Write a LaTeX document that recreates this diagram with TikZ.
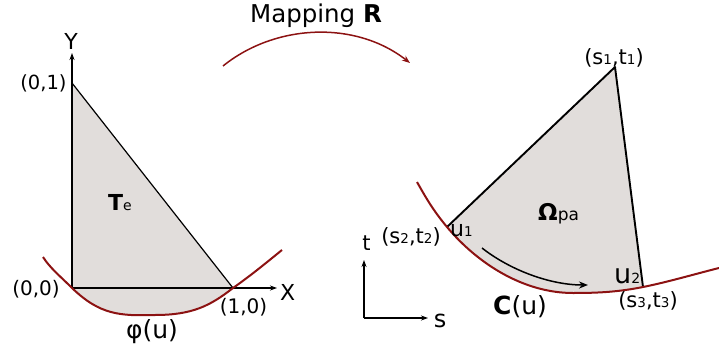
\documentclass[tikz,border=0pt]{standalone}
\usepackage{fontspec}
\setmainfont{DejaVu Sans}
\usetikzlibrary{arrows.meta}
\definecolor{curvered}{RGB}{140,18,18}
\definecolor{regiongray}{RGB}{225,221,219}
\newcommand{\fsz}[1]{\fontsize{#1}{#1}\selectfont}
\tikzset{
  redcurve/.style={draw=curvered, line width=2pt},
  edge/.style={draw=black, line width=1.9pt, line join=round},
  thinedge/.style={draw=black, line width=1.2pt},
  axis/.style={draw=black, line width=1.1pt, -{Stealth[length=7pt,width=5pt]}},
  lbl/.style={inner sep=0pt, anchor=base},
}
\begin{document}
\begin{tikzpicture}[x=1pt,y=-1pt]
\useasboundingbox (0,0) rectangle (719,350);
% ---------- left panel ----------
\coordinate (O) at (72,288);
\coordinate (A) at (72,83);
\coordinate (B) at (233,288);
\coordinate (M) at (155,315);
\coordinate (L0) at (43,257);
\coordinate (L1) at (282,250);
\fill[regiongray] (A) -- (O) .. controls (100,315) and (120,316) .. (M)
   .. controls (192,315) and (210,306) .. (B) -- cycle;
\draw[thinedge] (A) -- (B);
\coordinate (Ytip) at (72,53);
\coordinate (Xtip) at (277,288);
\draw[axis] (O) -- (Ytip);
\draw[axis] (O) -- (Xtip);
\draw[redcurve] (L0) .. controls (50,268) and (60,276) .. (O)
   .. controls (100,315) and (120,316) .. (M)
   .. controls (192,315) and (210,306) .. (B)
   .. controls (253,274) and (272,258) .. (L1);
\node[lbl] (ylab) at (71,50) {\fsz{22}Y};
\node[lbl, anchor=base west] (xlab) at (280,300) {\fsz{22}X};
\node[lbl] (l01) at (43.5,90) {\fsz{19.5}(0,1)};
\node[lbl] (l00) at (36,295) {\fsz{20}(0,0)};
\node[lbl] (l10) at (243.5,313) {\fsz{20}(1,0)};
\node[lbl] (phi) at (152,338) {\fsz{25}φ(u)};
\node[lbl, anchor=base west] (te) at (108,210) {\fsz{22}\textbf{T}\fsz{14}e};
% ---------- mapping arrow ----------
\coordinate (m0) at (223,66);
\coordinate (m1) at (410,63);
\draw[draw=curvered, line width=1.5pt, -{Stealth[length=8pt,width=6pt]}]
   (m0) .. controls (275,24) and (355,20) .. (m1);
\node[lbl] (map) at (316,23) {\fsz{24.5}Mapping \textbf{R}};
% ---------- right panel ----------
\coordinate (S1) at (615,67);
\coordinate (U1) at (447,227);
\coordinate (U3) at (643,287);
\coordinate (Q) at (573,293);
\coordinate (R0) at (417,182);
\coordinate (R1) at (719,268);
\fill[regiongray] (S1) -- (U1) .. controls (477,263) and (523,293) .. (Q)
   .. controls (598,293) and (618,292) .. (U3) -- cycle;
\draw[edge] (U1) -- (S1) -- (U3);
\draw[redcurve] (R0) .. controls (425,196) and (432,209) .. (U1)
   .. controls (477,263) and (523,293) .. (Q)
   .. controls (598,293) and (618,292) .. (U3)
   .. controls (668,282) and (695,274) .. (R1);
\coordinate (a0) at (482,248);
\coordinate (a1) at (588,285);
\draw[draw=black, line width=1.5pt, -{Stealth[length=9pt,width=7pt]}]
   (a0) .. controls (510,270) and (550,285) .. (a1);
\node[lbl] (s1t1) at (614,65) {\fsz{21}(s\fsz{13.5}1\fsz{21},t\fsz{13.5}1\fsz{21})};
\node[lbl] (s2t2) at (411,243) {\fsz{21}(s\fsz{13.5}2\fsz{21},t\fsz{13.5}2\fsz{21})};
\node[lbl] (s3t3) at (648,307) {\fsz{21}(s\fsz{13.5}3\fsz{21},t\fsz{13.5}3\fsz{21})};
\node[lbl, anchor=base west] (u1) at (450,236) {\fsz{22}u\fsz{13.5}1};
\node[lbl, anchor=base west] (u2) at (614,283) {\fsz{27}u\fsz{14}2};
\node[lbl, anchor=base west] (om) at (538,220) {\fsz{23}\textbf{Ω}\fsz{17}pa};
\node[lbl] (cu) at (520,314) {\fsz{25}\textbf{C}(u)};
% small axes
\coordinate (o2) at (364,318);
\coordinate (ttip) at (364,260);
\coordinate (stip) at (428,318);
\draw[axis] (o2) -- (ttip);
\draw[axis] (o2) -- (stip);
\node[lbl] (tl) at (366.5,250) {\fsz{21}t};
\node[lbl] (sl) at (440,327) {\fsz{24}s};
\end{tikzpicture}
\end{document}
